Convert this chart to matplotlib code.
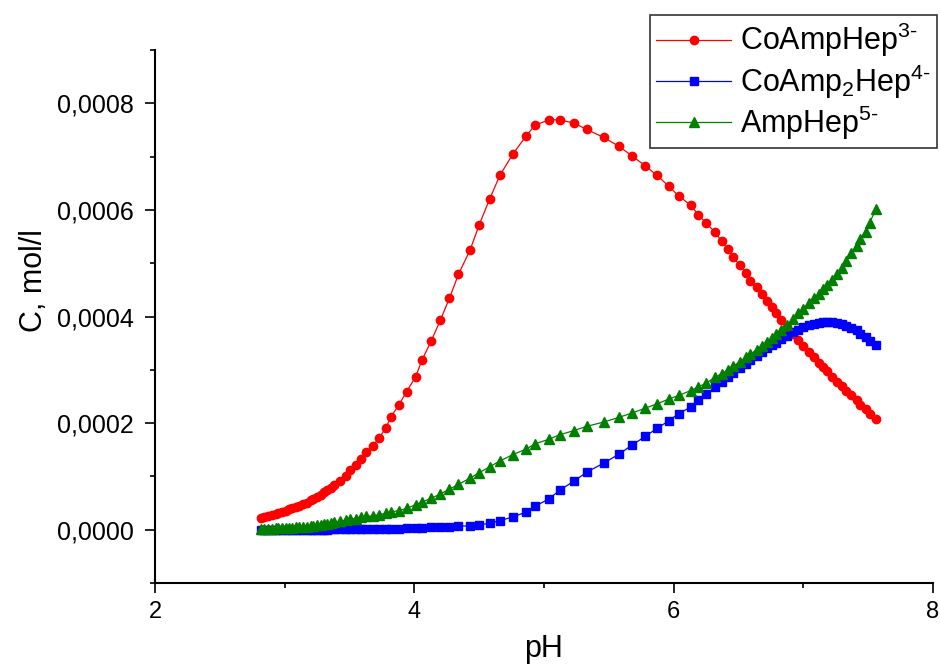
import matplotlib
matplotlib.use("Agg")
import matplotlib.pyplot as plt
from matplotlib.ticker import MultipleLocator, FuncFormatter

plt.rcParams["font.family"] = ["Liberation Sans", "DejaVu Sans"]
plt.rcParams["mathtext.fontset"] = "custom"
plt.rcParams["mathtext.rm"] = "Liberation Sans"
plt.rcParams["mathtext.it"] = "Liberation Sans:italic"

# pH values (shared by all three species)
ph = [2.82, 2.84, 2.87, 2.90, 2.93, 2.95, 2.98, 3.01, 3.03, 3.06,
      3.09, 3.11, 3.14, 3.17, 3.20, 3.22, 3.25, 3.28, 3.30, 3.33,
      3.36, 3.38, 3.43, 3.47, 3.50, 3.55, 3.59, 3.63, 3.68, 3.73,
      3.78, 3.82, 3.88, 3.94, 4.01, 4.06, 4.13, 4.20, 4.27, 4.34,
      4.43, 4.50, 4.58, 4.66, 4.76, 4.86, 4.93, 5.04, 5.12, 5.23,
      5.33, 5.46, 5.58, 5.68, 5.78, 5.87, 5.96, 6.04, 6.13, 6.19,
      6.25, 6.32, 6.37, 6.42, 6.46, 6.51, 6.56, 6.59, 6.64, 6.68,
      6.72, 6.76, 6.79, 6.83, 6.87, 6.92, 6.96, 7.00, 7.04, 7.08,
      7.12, 7.15, 7.18, 7.22, 7.26, 7.30, 7.33, 7.37, 7.41, 7.44,
      7.48, 7.51, 7.56]

# concentrations, in units of 1e-4 mol/l
co_amp_hep = [0.22, 0.24, 0.26, 0.28, 0.30, 0.32, 0.34, 0.36, 0.38, 0.40,
              0.43, 0.45, 0.48, 0.51, 0.55, 0.58, 0.62, 0.66, 0.70, 0.74,
              0.78, 0.83, 0.92, 1.01, 1.12, 1.22, 1.32, 1.45, 1.57, 1.73,
              1.91, 2.12, 2.34, 2.59, 2.87, 3.19, 3.54, 3.93, 4.34, 4.79,
              5.25, 5.72, 6.20, 6.65, 7.05, 7.38, 7.59, 7.69, 7.69, 7.63,
              7.51, 7.36, 7.19, 7.01, 6.83, 6.65, 6.45, 6.26, 6.09, 5.91,
              5.75, 5.58, 5.41, 5.26, 5.11, 4.96, 4.81, 4.67, 4.55, 4.42,
              4.30, 4.17, 4.06, 3.93, 3.81, 3.67, 3.56, 3.45, 3.34, 3.24,
              3.13, 3.05, 2.97, 2.87, 2.78, 2.70, 2.61, 2.53, 2.44, 2.34,
              2.26, 2.17, 2.07]

co_amp2_hep = [0.00, 0.00, 0.00, 0.00, 0.00, 0.00, 0.00, 0.00, 0.00, 0.00,
               0.00, 0.00, 0.00, 0.00, 0.00, 0.00, 0.00, 0.00, 0.00, 0.00,
               0.01, 0.01, 0.01, 0.01, 0.01, 0.01, 0.01, 0.01, 0.01, 0.01,
               0.01, 0.02, 0.02, 0.03, 0.03, 0.04, 0.05, 0.05, 0.06, 0.07,
               0.07, 0.09, 0.12, 0.17, 0.24, 0.33, 0.44, 0.58, 0.74, 0.91,
               1.08, 1.25, 1.42, 1.59, 1.75, 1.90, 2.04, 2.18, 2.30, 2.43,
               2.54, 2.67, 2.77, 2.86, 2.94, 3.03, 3.11, 3.18, 3.26, 3.33,
               3.40, 3.46, 3.51, 3.58, 3.64, 3.71, 3.75, 3.80, 3.84, 3.86,
               3.88, 3.89, 3.89, 3.89, 3.88, 3.86, 3.83, 3.79, 3.74, 3.68,
               3.62, 3.55, 3.47]

amp_hep = [0.02, 0.02, 0.02, 0.02, 0.03, 0.03, 0.03, 0.04, 0.04, 0.04,
           0.05, 0.05, 0.06, 0.06, 0.07, 0.07, 0.08, 0.09, 0.10, 0.11,
           0.12, 0.14, 0.16, 0.18, 0.20, 0.21, 0.23, 0.25, 0.26, 0.28,
           0.31, 0.33, 0.36, 0.40, 0.47, 0.52, 0.59, 0.67, 0.76, 0.85,
           0.97, 1.07, 1.18, 1.29, 1.41, 1.51, 1.61, 1.70, 1.78, 1.86,
           1.94, 2.02, 2.11, 2.19, 2.28, 2.36, 2.45, 2.52, 2.61, 2.68,
           2.75, 2.86, 2.93, 3.00, 3.07, 3.15, 3.24, 3.29, 3.38, 3.45,
           3.53, 3.60, 3.67, 3.75, 3.84, 3.95, 4.06, 4.15, 4.25, 4.34,
           4.42, 4.51, 4.60, 4.68, 4.80, 4.91, 5.05, 5.19, 5.33, 5.46,
           5.59, 5.76, 6.01]

scale = 1e-4
labels = [r"$\mathregular{CoAmpHep^{3\text{-}}}$",
          r"$\mathregular{CoAmp_2Hep^{4\text{-}}}$",
          r"$\mathregular{AmpHep^{5\text{-}}}$"]

fig = plt.figure(figsize=(9.4, 6.66), dpi=100)
ax = fig.add_axes([0.1649, 0.1246, 0.8277, 0.8003])

ax.plot(ph, [v * scale for v in co_amp_hep], "-o", color="#ff0000",
        lw=0.9, ms=6, label=labels[0])
ax.plot(ph, [v * scale for v in co_amp2_hep], "-s", color="#0000ff",
        lw=0.9, ms=5.5, label=labels[1])
ax.plot(ph, [v * scale for v in amp_hep], "-^", color="#007f00",
        lw=0.9, ms=6.5, label=labels[2])

ax.set_xlim(2, 8)
ax.set_ylim(-0.0001, 0.0009)
ax.xaxis.set_major_locator(MultipleLocator(2))
ax.xaxis.set_minor_locator(MultipleLocator(1))
ax.yaxis.set_major_locator(MultipleLocator(0.0002))
ax.yaxis.set_minor_locator(MultipleLocator(0.0001))
ax.yaxis.set_major_formatter(
    FuncFormatter(lambda v, p: f"{v:.4f}".replace(".", ",").replace("-0,0000", "0,0000")))

for side in ["top", "right"]:
    ax.spines[side].set_visible(False)
for side in ["left", "bottom"]:
    ax.spines[side].set_linewidth(1.5)

ax.tick_params(which="major", direction="out", length=7, width=1.2)
ax.tick_params(which="minor", direction="out", length=3.5, width=1.2)
ax.tick_params(axis="y", labelsize=18, pad=8)
ax.tick_params(axis="x", labelsize=17, pad=6)

ax.set_xlabel("pH", fontsize=22)
ax.set_ylabel("C, mol/l", fontsize=22)
ax.xaxis.set_label_coords(0.5, -0.095)
ax.yaxis.set_label_coords(-0.136, 0.568)

leg = ax.legend(loc="upper left", bbox_to_anchor=(650 / 940, 1 - 15 / 666),
                bbox_transform=fig.transFigure, borderaxespad=0,
                fontsize=22, frameon=True, fancybox=False,
                handlelength=2.45, handletextpad=0.3, labelspacing=0.1,
                borderpad=0.2)
leg.get_frame().set_edgecolor("black")
leg.get_frame().set_linewidth(1.2)

fig.savefig("out.png", dpi=100)
